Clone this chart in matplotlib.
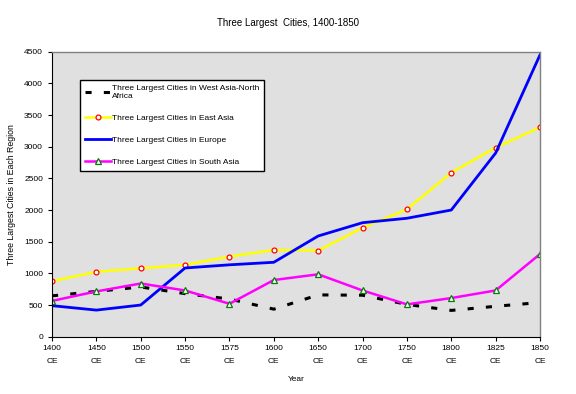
import matplotlib
matplotlib.use("Agg")
import matplotlib.pyplot as plt

years = ["1400", "1450", "1500", "1550", "1575", "1600", "1650", "1700", "1750", "1800", "1825", "1850"]
tick_labels = [y + "\nCE" for y in years]

west_asia = [645, 715, 785, 680, 595, 435, 660, 655, 510, 415, 480, 540]
east_asia = [875, 1025, 1080, 1135, 1265, 1370, 1360, 1720, 2010, 2590, 2985, 3305]
europe = [490, 420, 500, 1085, 1135, 1175, 1590, 1800, 1870, 2000, 2900, 4450]
south_asia = [565, 715, 840, 730, 520, 895, 985, 730, 510, 610, 730, 1305]

labels = [
    "Three Largest Cities in West Asia-North\nAfrica",
    "Three Largest Cities in East Asia",
    "Three Largest Cities in Europe",
    "Three Largest Cities in South Asia",
]

plt.rcParams['font.family'] = ['Liberation Sans', 'DejaVu Sans']

fig = plt.figure(figsize=(5.76, 3.94), dpi=100)
ax = fig.add_axes([52/576, 1-336.7/394, 488/576, 285/394])
ax.set_facecolor("#e0e0e0")

x = list(range(len(years)))
ax.plot(x, west_asia, color="black", lw=2.2, dashes=(2, 4), label=labels[0])
ax.plot(x, east_asia, color="#ffff00", lw=1.8, marker="o", ms=3.5,
        mfc="white", mec="red", mew=0.9, label=labels[1])
ax.plot(x, europe, color="#0000ff", lw=2.0, label=labels[2])
ax.plot(x, south_asia, color="#ff00ff", lw=1.8, marker="^", ms=4,
        mfc="white", mec="green", mew=0.9, label=labels[3])

ax.set_xlim(0, len(years) - 1)
ax.set_ylim(0, 4500)
ax.set_yticks(range(0, 4501, 500))
ax.set_xticks(x)
ax.set_xticklabels(tick_labels, fontsize=6, linespacing=2.2)
ax.tick_params(axis="y", labelsize=6, length=3, width=0.8, direction="out")
ax.tick_params(axis="x", length=3, width=0.8, direction="out", pad=3)

for s in ["top", "right"]:
    ax.spines[s].set_color("#808080")
    ax.spines[s].set_linewidth(1)
for s in ["left", "bottom"]:
    ax.spines[s].set_color("black")
    ax.spines[s].set_linewidth(0.8)

ax.set_xlabel("Year", fontsize=6, labelpad=8)
ax.set_ylabel("Three Largest Cities in Each Region", fontsize=6.3, labelpad=6)
fig.text(0.5, 1-22.5/394, "Three Largest  Cities, 1400-1850", ha="center", va="center", fontsize=7)

leg = ax.legend(loc="upper left", bbox_to_anchor=(0.057, 0.9), fontsize=6,
                frameon=True, fancybox=False, edgecolor="black", facecolor="white",
                framealpha=1, labelspacing=1.7, handlelength=3.1, handletextpad=0.15,
                borderpad=0.6, borderaxespad=0)
leg.get_frame().set_linewidth(1)

fig.savefig("out.png", dpi=100)
